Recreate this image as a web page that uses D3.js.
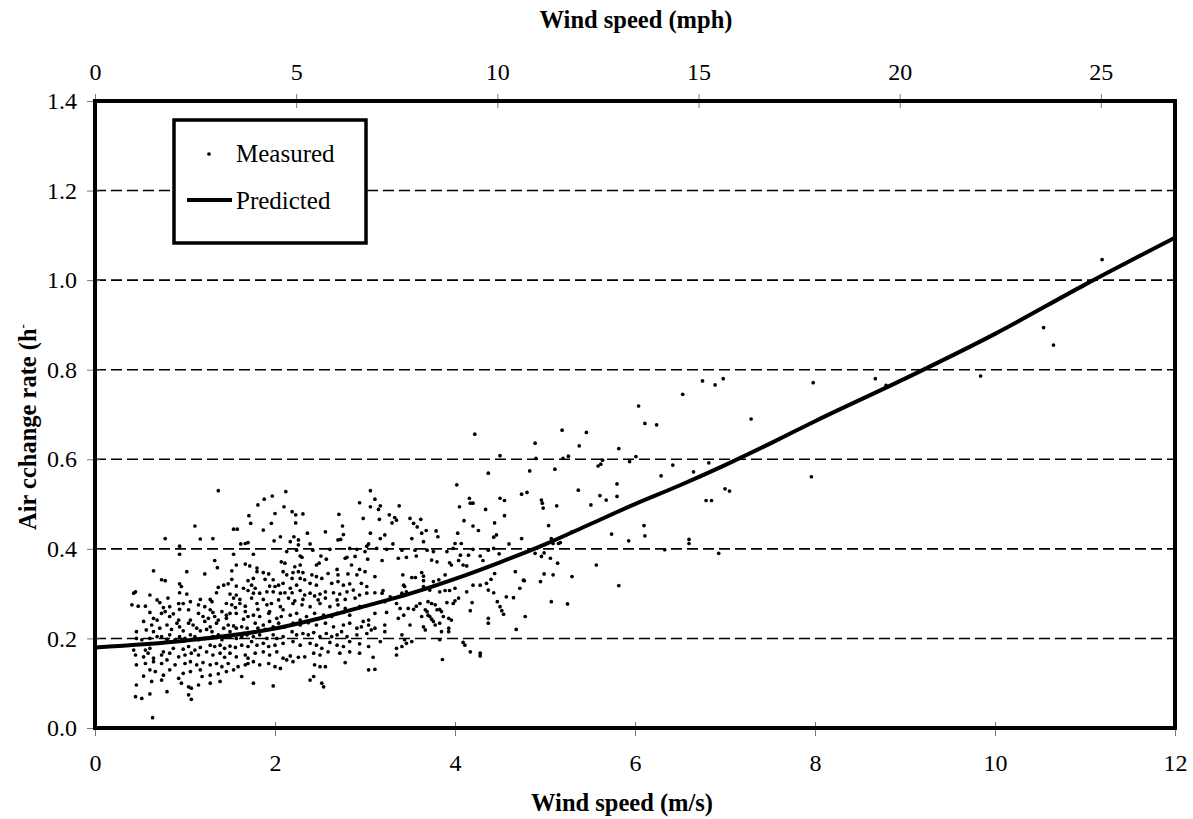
<!DOCTYPE html>
<html>
<head>
<meta charset="utf-8">
<script src="https://cdn.jsdelivr.net/npm/d3@7"></script>
<style>
  html, body { margin: 0; padding: 0; background: #fff; }
  svg { display: block; }
  text { font-family: "Liberation Serif", "Times New Roman", serif; fill: #000; }
</style>
</head>
<body>
<svg id="chart" width="1193" height="819"></svg>
<script>
// ---------- data ----------
const xTicksMs = [0, 2, 4, 6, 8, 10, 12];
const xTicksMph = [0, 5, 10, 15, 20, 25];
const yTicks = [0, 0.2, 0.4, 0.6, 0.8, 1.0, 1.2, 1.4];
const gridValues = [0.2, 0.4, 0.6, 0.8, 1.0, 1.2];

const predictedSpeed = [0, 1, 2, 2.5, 3, 3.5, 4, 4.5, 5, 5.5, 6, 6.5, 7, 7.5, 8, 9, 10, 11, 12];
const predictedRate  = [0.18, 0.195, 0.222, 0.245, 0.272, 0.30, 0.333, 0.37, 0.41, 0.455, 0.50, 0.542, 0.587, 0.635, 0.685, 0.78, 0.88, 0.99, 1.095];

// measured [wind speed m/s, air change rate h-1]
const measured = [
[0.65,0.351],[1.02,0.349],[1.22,0.344],[1.52,0.351],[0.74,0.331],[0.78,0.329],[1.52,0.332],[1.70,0.329],
[0.94,0.322],[0.96,0.316],[1.48,0.322],[1.43,0.319],[1.37,0.314],[1.57,0.317],[1.65,0.312],[0.45,0.304],[0.43,0.301],
[0.61,0.297],[0.94,0.302],[1.02,0.299],[1.35,0.302],[1.50,0.299],[1.57,0.297],[1.70,0.307],[0.69,0.286],[0.81,0.290],[1.17,0.287],[1.28,0.287],[1.30,0.282],[1.54,0.290],[1.61,0.287],
[0.72,0.280],[0.93,0.278],[0.98,0.278],[1.06,0.282],[0.41,0.275],[0.48,0.272],[0.56,0.272],[0.76,0.269],[0.83,0.271],[1.15,0.275],[1.22,0.271],[1.46,0.278],[1.52,0.275],[1.56,0.269],[1.61,0.278],[1.67,0.272],[1.67,0.260],
[0.61,0.258],[0.74,0.256],[0.78,0.260],[0.87,0.255],[0.94,0.265],[1.04,0.264],[1.15,0.256],[1.28,0.264],[1.31,0.258],[1.41,0.260],[1.46,0.252],[1.50,0.256],[1.57,0.256],[0.54,0.238],[0.65,0.245],[0.69,0.241],[0.83,0.249],[0.93,0.241],[1.06,0.241],[1.20,0.249],[1.26,0.245],[1.33,0.249],[1.37,0.241],[1.46,0.245],[1.65,0.243],[1.70,0.249],
[0.63,0.230],[0.80,0.230],[0.91,0.234],[0.94,0.226],[1.04,0.234],[1.09,0.230],[1.13,0.223],[1.17,0.217],[1.22,0.238],[1.28,0.226],[1.35,0.234],[1.43,0.223],[1.48,0.230],[1.54,0.228],[1.57,0.223],[1.63,0.226],[1.69,0.223],[0.46,0.215],[0.57,0.219],[0.65,0.215],[0.72,0.223],[0.85,0.220],[0.98,0.217],[1.24,0.220],[1.30,0.215],[1.50,0.215],[1.65,0.211],
[0.46,0.200],[0.52,0.197],[0.61,0.200],[0.69,0.204],[0.74,0.204],[0.80,0.198],[0.83,0.208],[0.89,0.197],[0.94,0.204],[1.00,0.200],[1.06,0.208],[1.11,0.204],[1.15,0.197],[1.22,0.200],[1.31,0.204],[1.37,0.208],[1.41,0.197],[1.50,0.204],[1.57,0.200],[1.63,0.204],[1.69,0.208],
[0.43,0.174],[0.56,0.174],[0.61,0.178],[0.76,0.170],[0.87,0.178],[0.98,0.176],[1.04,0.182],[1.11,0.174],[1.17,0.180],[1.28,0.185],[1.33,0.182],[1.39,0.185],[1.44,0.178],[1.50,0.183],[1.56,0.180],[1.63,0.185],[1.70,0.182],
[0.45,0.163],[0.54,0.159],[0.59,0.167],[0.65,0.156],[0.74,0.163],[0.83,0.167],[0.93,0.159],[1.00,0.163],[1.07,0.167],[1.15,0.163],[1.24,0.170],[1.31,0.163],[1.39,0.167],[1.44,0.158],[1.50,0.167],[1.57,0.159],[1.67,0.163],[1.70,0.156],
[0.46,0.141],[0.56,0.144],[0.65,0.148],[0.74,0.144],[0.80,0.152],[0.89,0.141],[1.00,0.144],[1.06,0.148],[1.13,0.141],[1.20,0.146],[1.28,0.141],[1.35,0.144],[1.41,0.137],[1.48,0.144],[1.59,0.137],[1.67,0.141],[1.70,0.144],
[0.54,0.116],[0.61,0.130],[0.67,0.126],[0.76,0.118],[0.83,0.130],[0.93,0.111],[0.98,0.122],[1.06,0.126],[1.17,0.130],[1.19,0.115],[1.28,0.118],[1.37,0.121],[1.46,0.126],[1.54,0.130],[1.63,0.115],
[0.46,0.096],[0.63,0.104],[0.74,0.107],[0.80,0.081],[0.96,0.100],[1.04,0.092],[1.07,0.089],[1.15,0.096],[1.28,0.100],[1.39,0.104],
[0.45,0.070],[0.52,0.066],[0.61,0.076],[1.04,0.074],[1.07,0.064],[0.64,0.023],
[1.80,0.349],[1.87,0.347],[1.93,0.344],[2.09,0.349],[2.13,0.342],[2.20,0.347],[2.26,0.349],[2.31,0.347],[2.41,0.342],[2.46,0.338],[2.59,0.345],[2.70,0.342],[2.81,0.344],[2.91,0.342],[3.00,0.349],[1.76,0.334],[1.89,0.332],[1.98,0.331],[2.19,0.334],[2.28,0.334],[2.33,0.331],[2.52,0.334],
[1.74,0.319],[1.78,0.312],[1.94,0.317],[2.00,0.316],[2.04,0.319],[2.09,0.323],[2.17,0.312],[2.24,0.319],[2.39,0.323],[2.46,0.319],[2.63,0.323],[2.70,0.327],[2.76,0.319],[2.83,0.322],[2.96,0.323],[3.02,0.316],
[1.76,0.301],[1.83,0.301],[1.91,0.304],[1.98,0.304],[2.06,0.301],[2.11,0.302],[2.19,0.302],[2.28,0.307],[2.33,0.297],[2.39,0.301],[2.44,0.295],[2.50,0.299],[2.56,0.304],[2.65,0.302],[2.72,0.299],[2.80,0.304],[2.87,0.308],[2.94,0.297],[3.02,0.301],[1.74,0.290],[1.87,0.287],[2.04,0.286],[2.15,0.290],[2.22,0.284],[2.31,0.287],[2.48,0.286],[2.56,0.290],[2.69,0.286],[2.78,0.287],[2.89,0.290],
[1.80,0.278],[1.91,0.275],[1.96,0.278],[2.06,0.271],[2.09,0.264],[2.20,0.278],[2.30,0.275],[2.39,0.271],[2.50,0.278],[2.61,0.271],[2.70,0.275],[2.78,0.267],[2.85,0.264],[2.94,0.271],[1.81,0.265],[1.94,0.260],
[1.76,0.252],[1.83,0.249],[1.93,0.256],[2.02,0.245],[2.07,0.249],[2.17,0.252],[2.24,0.256],[2.28,0.241],[2.35,0.249],[2.44,0.256],[2.54,0.252],[2.63,0.249],[2.69,0.256],[2.76,0.258],[2.83,0.252],[2.98,0.238],[3.04,0.241],
[1.78,0.234],[1.87,0.230],[1.94,0.238],[2.04,0.234],[2.11,0.226],[2.20,0.234],[2.28,0.230],[2.37,0.235],[2.46,0.230],[2.56,0.234],[2.65,0.226],[2.76,0.230],[2.83,0.234],[2.91,0.223],[2.96,0.226],[3.04,0.230],[1.81,0.223],[1.98,0.226],[1.89,0.220],
[1.76,0.204],[1.83,0.208],[1.91,0.200],[1.98,0.208],[2.02,0.200],[2.09,0.204],[2.19,0.215],[2.24,0.208],[2.31,0.211],[2.37,0.208],[2.43,0.213],[2.50,0.204],[2.57,0.211],[2.63,0.204],[2.69,0.208],[2.74,0.215],[2.80,0.204],[2.91,0.208],[3.02,0.211],
[1.74,0.193],[1.80,0.185],[1.87,0.189],[1.93,0.182],[2.00,0.185],[2.09,0.189],[2.20,0.193],[2.28,0.185],[2.39,0.189],[2.46,0.185],[2.52,0.178],[2.61,0.191],[2.69,0.185],[2.76,0.182],[2.83,0.193],[2.94,0.188],[3.04,0.182],
[1.78,0.167],[1.87,0.170],[1.94,0.163],[2.02,0.170],[2.09,0.156],[2.17,0.161],[2.26,0.158],[2.33,0.159],[2.43,0.167],[2.50,0.163],[2.59,0.170],[2.72,0.167],[2.83,0.170],[2.94,0.167],
[1.76,0.148],[1.83,0.141],[1.93,0.144],[2.00,0.137],[2.06,0.133],[2.13,0.152],[2.20,0.148],[2.44,0.141],[2.50,0.137],[2.56,0.137],[2.78,0.146],[3.04,0.130],
[1.76,0.100],[1.98,0.094],[2.39,0.107],[2.43,0.115],[2.52,0.100],[2.54,0.092],
[3.11,0.338],[3.42,0.342],[3.52,0.336],[3.56,0.336],[3.63,0.347],[3.65,0.339],[3.65,0.329],[3.89,0.342],[3.76,0.327],[3.82,0.331],[3.11,0.302],[3.19,0.301],[3.20,0.307],[3.22,0.282],[3.28,0.293],[3.32,0.290],[3.41,0.301],[3.43,0.319],[3.44,0.316],[3.46,0.304],[3.65,0.316],[3.72,0.308],[3.83,0.304],[3.89,0.307],[3.94,0.307],[4.00,0.312],[4.04,0.290],[4.13,0.304],[4.20,0.319],[4.28,0.319],[4.35,0.323],[4.37,0.308],
[3.11,0.256],[3.24,0.258],[3.35,0.278],[3.39,0.267],[3.43,0.252],[3.37,0.245],[3.48,0.267],[3.54,0.265],[3.50,0.230],[3.57,0.272],[3.61,0.278],[3.63,0.249],[3.67,0.264],[3.69,0.260],[3.70,0.252],[3.72,0.249],[3.74,0.243],[3.70,0.282],[3.74,0.278],[3.78,0.275],[3.80,0.264],[3.76,0.238],[3.78,0.230],[3.83,0.265],[3.85,0.260],[3.83,0.234],[3.87,0.249],[3.91,0.280],[3.98,0.278],[4.00,0.284],[3.93,0.245],[3.96,0.241],[4.19,0.280],[4.17,0.262],[4.37,0.245],[4.37,0.234],[3.85,0.215],[3.93,0.223],[3.93,0.215],[3.65,0.226],[3.67,0.219],
[3.07,0.219],[3.11,0.223],[3.22,0.230],[3.22,0.215],[3.17,0.193],[3.41,0.208],[3.44,0.197],[3.46,0.189],[3.52,0.193],[3.83,0.197],[3.35,0.178],[3.41,0.182],[3.35,0.163],[4.09,0.191],[4.11,0.185],[4.17,0.170],[4.28,0.167],[4.28,0.161],[3.86,0.153],[3.09,0.158],[3.11,0.131],
[0.78,0.423],[0.94,0.406],[0.94,0.388],[1.11,0.451],[1.17,0.422],[1.31,0.423],[1.33,0.374],[1.36,0.358],[1.37,0.530],[1.54,0.444],[1.58,0.444],[1.54,0.388],[1.57,0.364],[1.62,0.411],[1.67,0.412],[1.70,0.414],[1.71,0.474],[1.73,0.457],[1.76,0.388],[1.67,0.366],[1.72,0.362],[1.80,0.357],[1.81,0.498],[1.87,0.442],[1.88,0.511],[1.96,0.457],[1.97,0.518],[1.99,0.418],[2.00,0.479],[2.06,0.427],[2.07,0.371],[2.10,0.494],[2.11,0.368],[2.12,0.528],[2.13,0.394],[2.17,0.416],[2.19,0.483],[2.21,0.427],[2.23,0.476],[2.23,0.458],[2.24,0.397],[2.26,0.420],[2.26,0.409],[2.28,0.384],[2.30,0.381],[2.31,0.478],[2.22,0.360],[2.28,0.364],[2.36,0.435],[2.39,0.411],[2.42,0.397],[2.46,0.364],[2.49,0.368],[2.51,0.384],[2.56,0.438],[2.57,0.377],[2.61,0.399],[2.69,0.354],[2.70,0.420],[2.71,0.477],[2.73,0.421],[2.75,0.451],[2.76,0.432],[2.78,0.379],[2.80,0.381],[2.83,0.401],[2.85,0.364],[2.89,0.383],[2.91,0.399],[2.94,0.503],[2.94,0.354],[2.98,0.468],[3.00,0.394],[3.02,0.406],[3.03,0.377],[3.04,0.411],[3.06,0.435],[3.06,0.530],[3.06,0.494],[3.11,0.511],[3.13,0.401],[3.15,0.488],[3.17,0.423],[3.16,0.466],[3.17,0.496],[3.19,0.374],[3.22,0.431],[3.24,0.399],[3.27,0.476],[3.30,0.458],[3.31,0.411],[3.33,0.470],[3.35,0.464],[3.37,0.379],[3.38,0.496],[3.41,0.397],[3.46,0.381],[3.50,0.468],[3.52,0.423],[3.54,0.457],[3.556,0.397],[3.57,0.384],[3.58,0.449],[3.62,0.466],[3.63,0.435],[3.65,0.416],[3.68,0.441],[3.69,0.397],[3.74,0.375],[3.76,0.394],[3.79,0.440],[3.80,0.371],[3.81,0.427],[3.91,0.394],[3.94,0.369],[3.96,0.364],[3.98,0.401],[4.00,0.412],[4.02,0.543],[4.03,0.435],[4.04,0.374],[4.05,0.494],[4.06,0.386],[4.07,0.412],[4.09,0.364],[4.10,0.463],[4.13,0.362],[4.15,0.386],[4.16,0.513],[4.17,0.502],[4.20,0.502],[4.20,0.451],[4.20,0.399],[4.26,0.441],[4.28,0.384],[4.31,0.374],[4.34,0.488],[4.37,0.569],[4.37,0.397],
[4.22,0.656],[5.19,0.665],[5.46,0.660],[4.89,0.636],[5.38,0.630],[5.82,0.624],[6.04,0.719],[6.11,0.680],[6.24,0.677],[6.53,0.745],[6.75,0.775],[6.89,0.766],[4.50,0.608],[4.90,0.602],[5.20,0.602],[5.26,0.607],[5.59,0.585],[5.62,0.589],[5.64,0.598],[5.94,0.595],[6.01,0.606],[6.42,0.587],[6.65,0.572],[6.82,0.592],[6.29,0.563],[5.11,0.578],[4.83,0.574],[4.50,0.513],[4.55,0.508],[5.37,0.531],[4.74,0.522],[4.80,0.526],[4.96,0.509],[4.98,0.491],[4.97,0.502],[5.13,0.496],[5.51,0.498],[5.61,0.519],[5.68,0.509],[5.80,0.517],[5.80,0.545],[6.79,0.508],[6.85,0.508],[7.00,0.534],[7.05,0.529],[4.55,0.474],[4.44,0.458],[4.46,0.431],[4.43,0.426],[5.04,0.452],[4.74,0.423],[5.07,0.423],[5.09,0.412],[5.15,0.412],[5.30,0.438],[5.74,0.433],[5.93,0.418],[6.10,0.452],[6.11,0.429],[6.60,0.421],[6.60,0.412],[6.33,0.398],[6.93,0.390],[4.60,0.411],[4.43,0.401],[4.49,0.389],[4.40,0.332],[4.43,0.302],[4.44,0.345],[4.47,0.282],[4.50,0.271],[4.52,0.262],[4.54,0.254],[4.57,0.293],[4.65,0.291],[4.67,0.349],[4.72,0.312],[4.76,0.330],[4.77,0.329],[4.68,0.220],[4.78,0.249],[4.89,0.390],[4.96,0.383],[4.99,0.391],[5.06,0.379],[5.14,0.368],[4.95,0.327],[4.99,0.344],[5.09,0.342],[5.07,0.282],[5.25,0.277],[5.30,0.338],[5.57,0.364],[5.82,0.318],[5.17,0.414],
[11.19,1.046],[10.54,0.894],[10.65,0.855],[9.84,0.786],[8.67,0.780],[8.79,0.765],[7.98,0.771],[7.29,0.690],[6.98,0.780],[7.96,0.561]
];

// ---------- layout ----------
const serif = '"Liberation Serif", "Times New Roman", serif';
const svg = d3.select("#chart");
const plotLeft = 95, plotRight = 1175, plotTop = 101, plotBottom = 728;

const x = d3.scaleLinear().domain([0, 12]).range([plotLeft, plotRight]);
const xMph = d3.scaleLinear().domain([0, 12 * 2.236936]).range([plotLeft, plotRight]);
const y = d3.scaleLinear().domain([0, 1.4]).range([plotBottom, plotTop]);

// gridlines
svg.append("g").selectAll("line").data(gridValues).join("line")
  .attr("x1", plotLeft).attr("x2", plotRight)
  .attr("y1", d => y(d)).attr("y2", d => y(d))
  .attr("stroke", "#000").attr("stroke-width", 1.6)
  .attr("stroke-dasharray", "11,5");

// axes
const tickColor = "#777";
const gB = svg.append("g").attr("transform", `translate(0,${plotBottom})`)
  .call(d3.axisBottom(x).tickValues(xTicksMs).tickFormat(d3.format("d")).tickSize(8).tickPadding(18));
gB.selectAll(".tick line").attr("y1", -6);
const gT = svg.append("g").attr("transform", `translate(0,${plotTop})`)
  .call(d3.axisTop(xMph).tickValues(xTicksMph).tickFormat(d3.format("d")).tickSize(7).tickPadding(14));
gT.selectAll(".tick line").attr("y1", 7);
const gL = svg.append("g").attr("transform", `translate(${plotLeft},0)`)
  .call(d3.axisLeft(y).tickValues(yTicks).tickFormat(d3.format(".1f")).tickSize(8).tickPadding(10));
gL.selectAll(".tick line").attr("x1", 5);

[gB, gT, gL].forEach(g => {
  g.attr("font-family", serif).attr("font-size", 24);
  g.select(".domain").remove();
  g.selectAll(".tick line").attr("stroke", tickColor).attr("stroke-width", 1);
  g.selectAll(".tick text")
    .style("font-family", serif)
    .style("font-size", "24px").attr("fill", "#000");
});

// measured points
svg.append("g").selectAll("circle").data(measured).join("circle")
  .attr("cx", d => x(d[0])).attr("cy", d => y(d[1]))
  .attr("r", 1.85).attr("fill", "#000");

// predicted line
const predicted = predictedSpeed.map((s, i) => [s, predictedRate[i]]);
svg.append("path").datum(predicted)
  .attr("fill", "none").attr("stroke", "#000").attr("stroke-width", 4)
  .attr("stroke-linejoin", "round")
  .attr("d", d3.line().x(d => x(d[0])).y(d => y(d[1])).curve(d3.curveMonotoneX));

// frame
svg.append("rect")
  .attr("x", plotLeft).attr("y", plotTop).attr("width", plotRight - plotLeft).attr("height", plotBottom - plotTop)
  .attr("fill", "none").attr("stroke", "#000").attr("stroke-width", 4);

// legend
const lg = svg.append("g");
lg.append("rect").attr("x", 174).attr("y", 120).attr("width", 192).attr("height", 123)
  .attr("fill", "#fff").attr("stroke", "#000").attr("stroke-width", 3.5);
lg.append("circle").attr("cx", 209).attr("cy", 154).attr("r", 1.85).attr("fill", "#000");
lg.append("text").attr("x", 236).attr("y", 162).style("font-size", "25px").text("Measured");
lg.append("line").attr("x1", 187).attr("x2", 232).attr("y1", 200).attr("y2", 200)
  .attr("stroke", "#000").attr("stroke-width", 4);
lg.append("text").attr("x", 236).attr("y", 209).style("font-size", "25px").text("Predicted");

// titles
svg.append("text").attr("x", 636).attr("y", 28).attr("text-anchor", "middle")
  .style("font-size", "24.5px").style("font-weight", "bold").text("Wind speed (mph)");
svg.append("text").attr("x", 622).attr("y", 811).attr("text-anchor", "middle")
  .style("font-size", "24.5px").style("font-weight", "bold").text("Wind speed (m/s)");
const yl = svg.append("text").attr("transform", "translate(36,530) rotate(-90)")
  .attr("text-anchor", "start").style("font-size", "24.5px").style("font-weight", "bold");
yl.append("tspan").text("Air cchange rate (h");
yl.append("tspan").attr("dy", -9).style("font-size", "13px").text("-");
</script>
</body>
</html>
